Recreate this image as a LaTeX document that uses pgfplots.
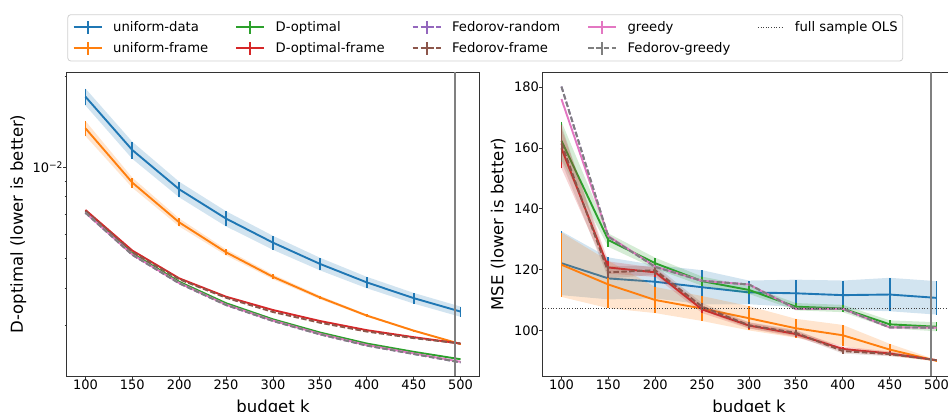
\documentclass[border=0pt]{standalone}
\usepackage{fontspec}
\setmainfont{DejaVu Sans}
\usepackage{pgfplots}
\pgfplotsset{compat=1.18}
\usepackage{pgfplotstable}

\definecolor{tblue}{HTML}{1F77B4}
\definecolor{torange}{HTML}{FF7F0E}
\definecolor{tgreen}{HTML}{2CA02C}
\definecolor{tred}{HTML}{D62728}
\definecolor{tpurple}{HTML}{9467BD}
\definecolor{tbrown}{HTML}{8C564B}
\definecolor{tpink}{HTML}{E377C2}
\definecolor{tgray}{HTML}{7F7F7F}

% ---------- left panel (D-optimal criterion) ----------
\pgfplotstableread{
k y
100 0.01710
150 0.01140
200 0.00846
250 0.00677
300 0.00564
350 0.00480
400 0.00417
450 0.00370
500 0.00334
}\LA
\pgfplotstableread{
k y
100 0.01345
150 0.00890
200 0.00658
250 0.00524
300 0.00435
350 0.00372
400 0.00324
450 0.00289
500 0.00261
}\LB
\pgfplotstableread{
k y
100 0.00714
150 0.00520
200 0.00419
250 0.00356
300 0.00315
350 0.00285
400 0.00262
450 0.00246
500 0.002325
}\LC
\pgfplotstableread{
k y
100 0.00723
150 0.00531
200 0.00430
250 0.00374
300 0.00338
350 0.00311
400 0.00290
450 0.00275
500 0.00262
}\LD
\pgfplotstableread{
k y
100 0.00708
150 0.00514
200 0.00414
250 0.00351
300 0.00311
350 0.00281
400 0.00258
450 0.00242
500 0.00227
}\LE
\pgfplotstableread{
k y
100 0.00718
150 0.00525
200 0.00427
250 0.00371
300 0.00333
350 0.00307
400 0.00287
450 0.00273
500 0.00262
}\LF
\pgfplotstableread{
k y
100 0.00708
150 0.00515
200 0.00415
250 0.00352
300 0.00312
350 0.00282
400 0.00259
450 0.00243
500 0.00228
}\LG
\pgfplotstableread{
k y
100 0.00708
150 0.00514
200 0.00414
250 0.00351
300 0.00311
350 0.00281
400 0.00258
450 0.00242
500 0.00227
}\LH

% ---------- right panel (MSE) ----------
\pgfplotstableread{
k y e
100 122.1 10.5
150 117.1 6.9
200 116.0 5.5
250 114.2 5.6
300 112.5 3.9
350 112.2 4.5
400 111.6 4.8
450 111.8 5.5
500 110.7 5.5
}\RA
\pgfplotstableread{
k y e
100 121.6 10.6
150 115.1 7.8
200 110.0 4.3
250 107.2 4.1
300 104.0 4.0
350 100.7 3.1
400 98.4 3.4
450 93.7 1.9
500 90.0 0.3
}\RB
\pgfplotstableread{
k y e
100 162.4 6.3
150 129.7 2.2
200 122.1 1.8
250 116.2 1.5
300 113.3 1.3
350 107.8 1.2
400 107.2 1.2
450 102.0 1.3
500 101.2 1.5
}\RC
\pgfplotstableread{
k y e
100 159.9 6.6
150 120.7 2.0
200 119.1 1.5
250 106.9 1.2
300 101.6 1.0
350 98.8 1.0
400 93.9 0.8
450 92.4 0.7
500 90.2 0.2
}\RD
\pgfplotstableread{
k y
100 180.2
150 130.8
200 120.9
250 116.3
300 115.1
350 107.1
400 107.1
450 101.0
500 100.9
}\RE
\pgfplotstableread{
k y e
100 161.5 6.0
150 119.1 2.0
200 119.8 1.5
250 107.8 1.2
300 101.7 1.0
350 99.2 1.0
400 93.2 0.8
450 92.2 0.7
500 90.2 0.2
}\RF
\pgfplotstableread{
k y
100 176.1
150 131.0
200 121.0
250 116.3
300 115.1
350 107.1
400 107.1
450 101.0
500 100.9
}\RG
\pgfplotstableread{
k y
100 180.2
150 130.8
200 120.9
250 116.3
300 115.1
350 107.1
400 107.1
450 101.0
500 100.9
}\RH

\newcommand\ser[2]{%
  \addplot[#2, line width=1.9pt, forget plot,
    error bars/.cd, y dir=both, y explicit, error mark=none,
    error bar style={line width=1.9pt, solid}]
    table[x=k, y=y, y error=e] {#1};
}
\newcommand\lin[2]{%
  \addplot[#2, line width=1.9pt, forget plot] table[x=k, y=y] {#1};
}

\pgfplotsset{
  base/.style={
    scale only axis, width=412.6pt, height=304pt,
    xmin=80, xmax=520, xtick={100,150,...,500},
    tick align=outside, tick pos=left,
    major tick length=3.5pt, minor tick length=2pt,
    axis line style={black!80, line width=0.9pt},
    major tick style={black!80, line width=0.9pt},
    minor tick style={black!80, line width=0.7pt},
    tick label style={font=\fontsize{13}{13}\selectfont},
    /pgf/number format/assume math mode=true,
    every axis x label/.style={at={(axis description cs:0.5,-0.0767)}, anchor=north, inner sep=0pt, font=\fontsize{16.5}{16.5}\selectfont},
    xticklabel style={inner sep=0pt},
    yticklabel style={inner sep=0pt},
  },
  dsh/.style={dash pattern=on 5.5pt off 2.4pt},
  bnd/.style={fill=#1, fill opacity=0.2, draw=none, forget plot},
}

\begin{document}
\begin{tikzpicture}
% ================= left =================
\begin{axis}[base, at={(66.7pt,36pt)}, anchor=south west,
  ymode=log, ymin=0.002047, ymax=0.02063,
  ytick={0.01}, yticklabels={10\textsuperscript{−2}},
  minor ytick={0.003,0.004,0.005,0.006,0.007,0.008,0.009,0.02},
  xlabel={budget k}, ylabel={D-optimal (lower is better)},
  every axis y label/.style={at={(axis description cs:-0.117,0.5)}, rotate=90, anchor=center, inner sep=0pt, font=\fontsize{16.5}{16.5}\selectfont},
  unbounded coords=jump,
]
\addplot[bnd=tblue] coordinates {(100,0.01820) (150,0.01214) (200,0.00896) (250,0.00716) (300,0.00594) (350,0.00503) (400,0.00435) (450,0.00385) (500,0.00347)
  (500,0.00321) (450,0.00355) (400,0.00399) (350,0.00457) (300,0.00534) (250,0.00638) (200,0.00796) (150,0.01066) (100,0.01600)} -- cycle;
\lin{\LA}{tblue}
% error bars (lower, upper) of uniform-data
\addplot[tblue, line width=1.9pt, forget plot] coordinates {(100,0.01600) (100,0.01820) (100,nan) (150,0.01066) (150,0.01214) (150,nan) (200,0.00796) (200,0.00896) (200,nan) (250,0.00638) (250,0.00716) (250,nan) (300,0.00534) (300,0.00594) (300,nan) (350,0.00457) (350,0.00503) (350,nan) (400,0.00399) (400,0.00435) (400,nan) (450,0.00355) (450,0.00385) (450,nan) (500,0.00321) (500,0.00347)};
\addplot[bnd=torange] coordinates {(100,0.01422) (150,0.00924) (200,0.00678) (250,0.00536) (300,0.00443) (350,0.00377) (400,0.00327) (450,0.00291) (500,0.00262)
  (500,0.00260) (450,0.00287) (400,0.00321) (350,0.00367) (300,0.00427) (250,0.00512) (200,0.00638) (150,0.00856) (100,0.01268)} -- cycle;
\lin{\LB}{torange}
% error bars (lower, upper) of uniform-frame
\addplot[torange, line width=1.9pt, forget plot] coordinates {(100,0.01268) (100,0.01422) (100,nan) (150,0.00856) (150,0.00924) (150,nan) (200,0.00638) (200,0.00678) (200,nan) (250,0.00512) (250,0.00536) (250,nan) (300,0.00427) (300,0.00443) (300,nan) (350,0.00367) (350,0.00377) (350,nan) (400,0.00321) (400,0.00327) (400,nan) (450,0.00287) (450,0.00291) (450,nan) (500,0.00260) (500,0.00262)};
\lin{\LC}{tgreen}
\lin{\LD}{tred}
\lin{\LE}{tpurple, dsh}
\lin{\LF}{tbrown, dsh}
\lin{\LG}{tpink}
\lin{\LH}{tgray, dsh}
\addplot[black!50, line width=1.3pt, forget plot] coordinates {(494,0.002047) (494,0.02063)};
\end{axis}
% ================= right =================
\begin{axis}[base, at={(542.7pt,36pt)}, anchor=south west,
  ymin=85, ymax=185, ytick={100,120,140,160,180},
  xlabel={budget k}, ylabel={MSE (lower is better)},
  every axis y label/.style={at={(axis description cs:-0.108,0.5)}, rotate=90, anchor=center, inner sep=0pt, font=\fontsize{16.5}{16.5}\selectfont},
  legend columns=5,
  legend cell align=left,
  legend image code/.code={\draw[#1, line width=1.9pt] (0pt,0pt) -- (28pt,0pt); \draw[#1, solid, line width=1.9pt] (14pt,-6.3pt) -- (14pt,6.3pt);},
  legend style={at={(axis description cs:-1.152,1.1898)}, anchor=north west,
    draw=black!18, rounded corners=3pt, line width=0.8pt,
    inner xsep=5pt, inner ysep=5.3pt,
    font=\fontsize{13.2}{13.2}\selectfont,
    nodes={inner sep=0pt, text height=11pt, text depth=2pt},
    row sep=6.7pt,
    /tikz/every odd column/.append style={column sep=10.5pt},
    /tikz/every even column/.append style={column sep=27pt}},
]
\addplot[bnd=tblue] coordinates {(100,132.6) (150,124.0) (200,121.5) (250,119.8) (300,116.4) (350,116.7) (400,116.4) (450,117.3) (500,116.2)
  (500,105.2) (450,106.3) (400,106.8) (350,107.7) (300,108.6) (250,108.6) (200,110.5) (150,110.2) (100,111.6)} -- cycle;
\ser{\RA}{tblue}
\addplot[bnd=torange] coordinates {(100,132.2) (150,122.9) (200,114.3) (250,111.3) (300,108.0) (350,103.8) (400,101.8) (450,95.6) (500,90.3)
  (500,89.7) (450,91.8) (400,95.0) (350,97.6) (300,100.0) (250,103.1) (200,105.7) (150,107.3) (100,111.0)} -- cycle;
\ser{\RB}{torange}
\addplot[bnd=tgreen] coordinates {(100,168.7) (150,131.9) (200,123.9) (250,117.7) (300,114.6) (350,109.0) (400,108.4) (450,103.3) (500,102.7)
  (500,99.7) (450,100.7) (400,106.0) (350,106.6) (300,112.0) (250,114.7) (200,120.3) (150,127.5) (100,156.1)} -- cycle;
\ser{\RC}{tgreen}
\addplot[bnd=tred] coordinates {(100,166.5) (150,122.7) (200,120.6) (250,108.1) (300,102.6) (350,99.8) (400,94.7) (450,93.1) (500,90.4)
  (500,90.0) (450,91.7) (400,93.1) (350,97.8) (300,100.6) (250,105.7) (200,117.6) (150,118.7) (100,153.3)} -- cycle;
\ser{\RD}{tred}
\lin{\RE}{tpurple, dsh}
\addplot[bnd=tbrown] coordinates {(100,167.5) (150,121.1) (200,121.3) (250,109.0) (300,102.7) (350,100.2) (400,94.0) (450,92.9) (500,90.4)
  (500,90.0) (450,91.5) (400,92.4) (350,98.2) (300,100.7) (250,106.6) (200,118.3) (150,117.1) (100,155.5)} -- cycle;
\ser{\RF}{tbrown, dsh}
\lin{\RG}{tpink}
\lin{\RH}{tgray, dsh}
\addplot[black!75, line width=1pt, dash pattern=on 1pt off 1.65pt, forget plot] coordinates {(80,107.2) (520,107.2)};
\addplot[black!50, line width=1.3pt, forget plot] coordinates {(494,85) (494,185)};
% legend, row by row
\addlegendimage{tblue}\addlegendentry{uniform-data}
\addlegendimage{tgreen}\addlegendentry{D-optimal}
\addlegendimage{tpurple, dsh}\addlegendentry{Fedorov-random}
\addlegendimage{tpink}\addlegendentry{greedy}
\addlegendimage{legend image code/.code={\draw[black!75, line width=1pt, dash pattern=on 1pt off 1.65pt] (0pt,0pt) -- (26pt,0pt);}}\addlegendentry{full sample OLS}
\addlegendimage{torange}\addlegendentry{uniform-frame}
\addlegendimage{tred}\addlegendentry{D-optimal-frame}
\addlegendimage{tbrown, dsh}\addlegendentry{Fedorov-frame}
\addlegendimage{tgray, dsh}\addlegendentry{Fedorov-greedy}
\end{axis}
\pgfresetboundingbox
\useasboundingbox (0pt,0pt) rectangle (948pt,412pt);
\end{tikzpicture}
\end{document}
